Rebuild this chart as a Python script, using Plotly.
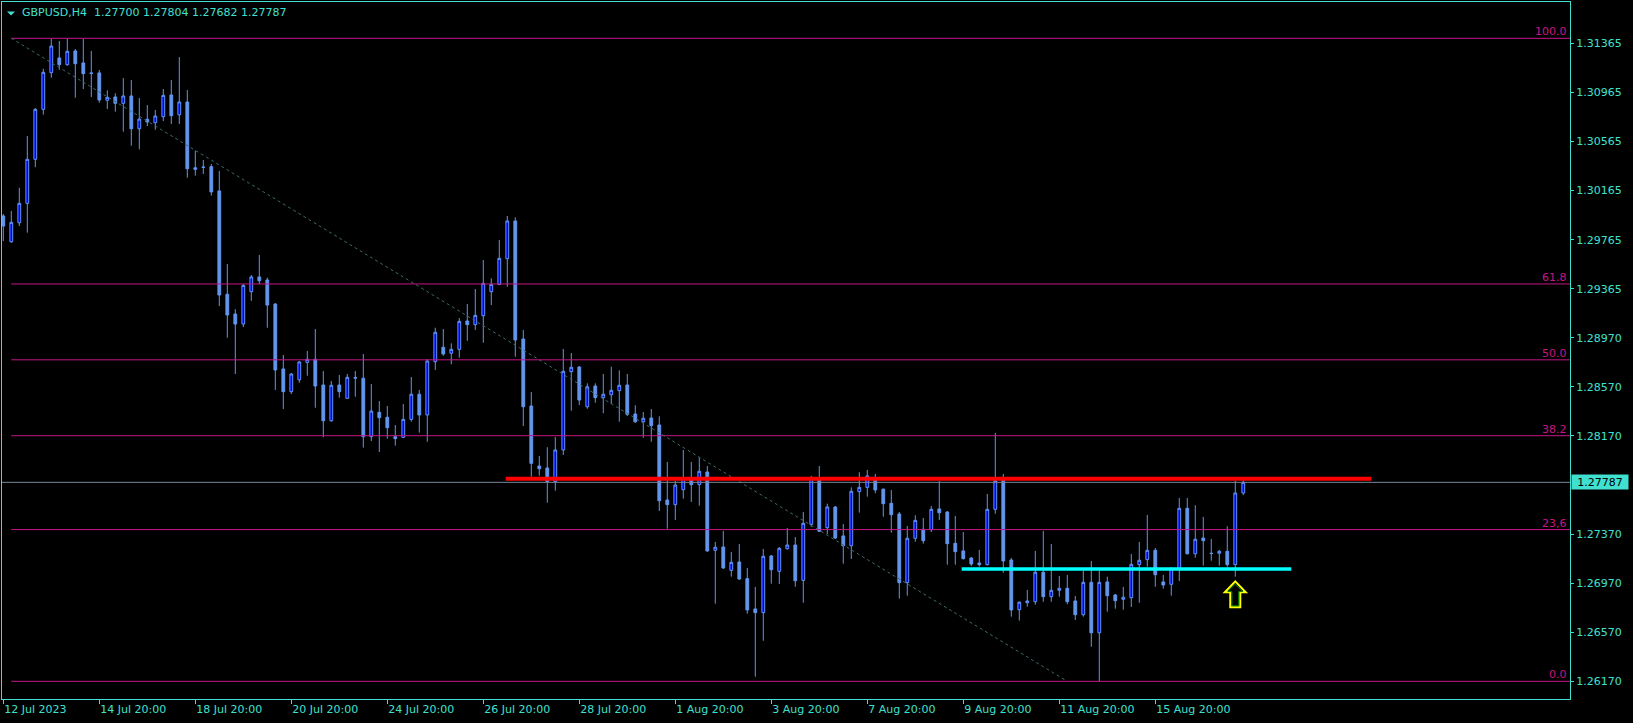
import plotly.graph_objects as go

# ---------------- data (GBPUSD, H4) ----------------
tick_bars = [0, 12, 24, 36, 48, 60, 72, 84, 96, 108, 120, 132, 144]
tick_labels = ["12 Jul 2023", "14 Jul 20:00", "18 Jul 20:00", "20 Jul 20:00", "24 Jul 20:00",
               "26 Jul 20:00", "28 Jul 20:00", "1 Aug 20:00", "3 Aug 20:00", "7 Aug 20:00",
               "9 Aug 20:00", "11 Aug 20:00", "15 Aug 20:00"]

opens = [
    1.29958, 1.29748, 1.29903, 1.30061, 1.30420, 1.30827, 1.31126, 1.31246, 1.31191, 1.31303, 1.31205, 1.31124,
    1.31124, 1.30901, 1.30928, 1.30876, 1.30936, 1.30669, 1.30746, 1.30718, 1.30767, 1.30944, 1.30783, 1.30887,
    1.30351, 1.30357, 1.30360, 1.30162, 1.29320, 1.29159, 1.29077, 1.29341, 1.29461, 1.29436, 1.29240, 1.28711,
    1.28526, 1.28623, 1.28765, 1.28790, 1.28580, 1.28289, 1.28580, 1.28472, 1.28641, 1.28635, 1.28159, 1.28358,
    1.28317, 1.28159, 1.28154, 1.28300, 1.28505, 1.28336, 1.28770, 1.28888, 1.28839, 1.28871, 1.29102, 1.29072,
    1.29145, 1.29341, 1.29400, 1.29610, 1.29917, 1.28955, 1.28409, 1.27920, 1.27904, 1.27792, 1.28051, 1.28689,
    1.28727, 1.28403, 1.28572, 1.28477, 1.28501, 1.28534, 1.28580, 1.28344, 1.28281, 1.28311, 1.28254, 1.27643,
    1.27605, 1.27727, 1.27817, 1.27768, 1.27871, 1.27233, 1.27260, 1.27070, 1.27138, 1.27002, 1.26755, 1.26725,
    1.27187, 1.27062, 1.27246, 1.27276, 1.26988, 1.27445, 1.27822, 1.27417, 1.27586, 1.27350, 1.27270, 1.27711,
    1.27746, 1.27806, 1.27731, 1.27616, 1.27529, 1.26969, 1.27331, 1.27404, 1.27401, 1.27570, 1.27545, 1.27290,
    1.27228, 1.27170, 1.27129, 1.27116, 1.27567, 1.27804, 1.27154, 1.26749, 1.26806, 1.26814, 1.27054, 1.26855,
    1.26907, 1.26923, 1.26820, 1.26708, 1.26972, 1.26561, 1.26975, 1.26869, 1.26834, 1.26847, 1.27116, 1.27157,
    1.27233, 1.26975, 1.26956, 1.27083, 1.27575, 1.27205, 1.27333, 1.27209, 1.27209, 1.27225, 1.27116, 1.27700,
]
highs = [
    1.29974, 1.29999, 1.30188, 1.30610, 1.30838, 1.31158, 1.31401, 1.31384, 1.31406, 1.31319, 1.31400, 1.31303,
    1.31148, 1.30982, 1.30958, 1.31082, 1.31066, 1.30919, 1.30862, 1.30822, 1.30993, 1.31066, 1.31253, 1.30985,
    1.30490, 1.30414, 1.30381, 1.30325, 1.29566, 1.29198, 1.29403, 1.29477, 1.29640, 1.29455, 1.29248, 1.28825,
    1.28678, 1.28776, 1.28857, 1.29037, 1.28694, 1.28613, 1.28662, 1.28670, 1.28694, 1.28833, 1.28588, 1.28450,
    1.28409, 1.28254, 1.28425, 1.28646, 1.28540, 1.28792, 1.29047, 1.29037, 1.28920, 1.29126, 1.29240, 1.29363,
    1.29599, 1.29449, 1.29762, 1.29958, 1.29947, 1.29029, 1.28523, 1.28002, 1.28073, 1.28156, 1.28874, 1.28841,
    1.28735, 1.28594, 1.28594, 1.28670, 1.28730, 1.28700, 1.28670, 1.28415, 1.28360, 1.28385, 1.28325, 1.27953,
    1.27800, 1.28051, 1.27953, 1.27988, 1.27920, 1.27301, 1.27391, 1.27220, 1.27284, 1.27089, 1.26934, 1.27244,
    1.27195, 1.27260, 1.27415, 1.27341, 1.27545, 1.27839, 1.27920, 1.27613, 1.27594, 1.27447, 1.27746, 1.27869,
    1.27888, 1.27855, 1.27737, 1.27725, 1.27545, 1.27431, 1.27518, 1.27496, 1.27594, 1.27798, 1.27553, 1.27513,
    1.27382, 1.27178, 1.27236, 1.27692, 1.28190, 1.27855, 1.27170, 1.26816, 1.26910, 1.27228, 1.27391, 1.27284,
    1.27024, 1.27032, 1.26861, 1.27067, 1.27146, 1.27067, 1.27018, 1.26877, 1.26934, 1.27203, 1.27301, 1.27521,
    1.27252, 1.27032, 1.27097, 1.27660, 1.27660, 1.27600, 1.27505, 1.27325, 1.27236, 1.27429, 1.27800, 1.27804,
]
lows = [
    1.29754, 1.29740, 1.29876, 1.29822, 1.30355, 1.30784, 1.31085, 1.31150, 1.31183, 1.30922, 1.30993, 1.30928,
    1.30881, 1.30830, 1.30808, 1.30645, 1.30531, 1.30501, 1.30691, 1.30661, 1.30732, 1.30707, 1.30707, 1.30270,
    1.30287, 1.30300, 1.30124, 1.29224, 1.28966, 1.28670, 1.29053, 1.29267, 1.29403, 1.29047, 1.28540, 1.28385,
    1.28507, 1.28599, 1.28656, 1.28395, 1.28154, 1.28281, 1.28477, 1.28466, 1.28485, 1.28070, 1.28124, 1.28034,
    1.28143, 1.28086, 1.28148, 1.28281, 1.28192, 1.28118, 1.28703, 1.28819, 1.28749, 1.28803, 1.28941, 1.29029,
    1.28925, 1.29232, 1.29395, 1.29381, 1.28811, 1.28246, 1.27833, 1.27841, 1.27621, 1.27719, 1.28010, 1.28371,
    1.28417, 1.28387, 1.28436, 1.28350, 1.28425, 1.28281, 1.28328, 1.28271, 1.28150, 1.28118, 1.27553, 1.27409,
    1.27480, 1.27654, 1.27627, 1.27597, 1.27220, 1.26798, 1.27081, 1.27018, 1.26991, 1.26716, 1.26203, 1.26496,
    1.26961, 1.26958, 1.27238, 1.26936, 1.26806, 1.27425, 1.27382, 1.27366, 1.27325, 1.27124, 1.27162, 1.27540,
    1.27670, 1.27698, 1.27507, 1.27377, 1.26839, 1.26863, 1.27303, 1.27287, 1.27382, 1.27480, 1.27116, 1.27116,
    1.27158, 1.27105, 1.27099, 1.27110, 1.27531, 1.27051, 1.26692, 1.26660, 1.26774, 1.26790, 1.26814, 1.26814,
    1.26855, 1.26793, 1.26665, 1.26692, 1.26447, 1.26165, 1.26733, 1.26757, 1.26749, 1.26771, 1.26806, 1.27099,
    1.26936, 1.26920, 1.26863, 1.26983, 1.27199, 1.27173, 1.27108, 1.27148, 1.27108, 1.27099, 1.27018, 1.27682,
]
closes = [
    1.29876, 1.29906, 1.30061, 1.30420, 1.30827, 1.31129, 1.31343, 1.31191, 1.31300, 1.31199, 1.31118, 1.31120,
    1.30903, 1.30925, 1.30876, 1.30936, 1.30669, 1.30748, 1.30724, 1.30773, 1.30941, 1.30775, 1.30887, 1.30343,
    1.30338, 1.30355, 1.30154, 1.29314, 1.29151, 1.29077, 1.29392, 1.29461, 1.29430, 1.29232, 1.28703, 1.28526,
    1.28670, 1.28768, 1.28790, 1.28572, 1.28289, 1.28578, 1.28526, 1.28643, 1.28637, 1.28159, 1.28368, 1.28314,
    1.28232, 1.28143, 1.28300, 1.28505, 1.28336, 1.28776, 1.29010, 1.28833, 1.28871, 1.29099, 1.29072, 1.29148,
    1.29409, 1.29400, 1.29613, 1.29917, 1.28947, 1.28403, 1.27942, 1.27898, 1.27792, 1.28051, 1.28692, 1.28725,
    1.28458, 1.28566, 1.28477, 1.28505, 1.28537, 1.28578, 1.28341, 1.28281, 1.28309, 1.28249, 1.27637, 1.27605,
    1.27765, 1.27820, 1.27768, 1.27877, 1.27228, 1.27258, 1.27089, 1.27135, 1.26999, 1.26747, 1.26725, 1.27184,
    1.27075, 1.27249, 1.27276, 1.26985, 1.27453, 1.27822, 1.27388, 1.27586, 1.27333, 1.27270, 1.27714, 1.27746,
    1.27839, 1.27725, 1.27613, 1.27523, 1.26969, 1.27331, 1.27477, 1.27311, 1.27567, 1.27539, 1.27287, 1.27222,
    1.27165, 1.27121, 1.27116, 1.27567, 1.27800, 1.27146, 1.26747, 1.26810, 1.26820, 1.27054, 1.26855, 1.26907,
    1.26923, 1.26814, 1.26708, 1.26972, 1.26561, 1.26972, 1.26863, 1.26822, 1.26850, 1.27119, 1.27152, 1.27233,
    1.27034, 1.26950, 1.27083, 1.27575, 1.27205, 1.27323, 1.27311, 1.27207, 1.27225, 1.27116, 1.27700, 1.27787,
]
bars = list(range(len(closes)))

price_ticks = [1.31365, 1.30965, 1.30565, 1.30165, 1.29765, 1.29365, 1.28965, 1.28565,
               1.28165, 1.27365, 1.26965, 1.26565, 1.26165]
price_tick_labels = ["1.31365", "1.30965", "1.30565", "1.30165", "1.29765", "1.29365", "1.28970",
                     "1.28570", "1.28170", "1.27370", "1.26970", "1.26570", "1.26170"]

# Fibonacci retracement
fib_high, fib_low = 1.31406, 1.26165
fib_bar_start, fib_bar_end = 1, 133
fib_levels = [0.0, 23.6, 38.2, 50.0, 61.8, 100.0]
fib_labels = ["0.0", "23,6", "38.2", "50.0", "61.8", "100.0"]

# drawn levels
resistance_price = 1.27817
resistance_bars = [62.8, 171.0]
support_price = 1.27081
support_bars = [119.8, 161.0]
arrow_bar, arrow_price = 154, 1.26980

symbol = "GBPUSD,H4"
last_price = closes[-1]
header = (f"{symbol}&nbsp;&nbsp;{opens[-1]:.5f} {highs[-1]:.5f} "
          f"{lows[-1]:.5f} {closes[-1]:.5f}")

# ---------------- style ----------------
W, H = 1633, 723
ML, MR, MT, MB = 2, 63, 2, 24
TXT = "#40E0D0"
FIB = "#C71585"
UP_FILL, BODY = "#0000FF", "#6495ED"
FONT = "DejaVu Sans"

y_top, y_bot = 1.31702, 1.26021
x_left, x_right = -0.1625, 195.84

fig = go.Figure()
fig.add_trace(go.Candlestick(
    x=bars, open=opens, high=highs, low=lows, close=closes,
    increasing=dict(fillcolor=UP_FILL, line=dict(color=BODY, width=1)),
    decreasing=dict(fillcolor=BODY, line=dict(color=BODY, width=1)),
    whiskerwidth=0, hoverinfo="skip", showlegend=False,
))

shapes = []
annotations = []

# Fibonacci lines and labels
for lvl, lab in zip(fib_levels, fib_labels):
    p = fib_low + lvl / 100.0 * (fib_high - fib_low)
    shapes.append(dict(type="line", xref="x", yref="y", x0=fib_bar_start, x1=x_right,
                       y0=p, y1=p, line=dict(color=FIB, width=1), layer="above"))
    annotations.append(dict(xref="paper", yref="y", x=1, y=p, xanchor="right", yanchor="bottom",
                            text=lab, showarrow=False, xshift=-1, yshift=-2,
                            font=dict(family=FONT, size=11, color=FIB)))
# fib trend line
shapes.append(dict(type="line", xref="x", yref="y", x0=fib_bar_start, y0=fib_high,
                   x1=fib_bar_end, y1=fib_low, line=dict(color="#3E6A6A", width=1, dash="dot"),
                   layer="above"))
# last price line
shapes.append(dict(type="line", xref="paper", yref="y", x0=0, x1=1, y0=last_price, y1=last_price,
                   line=dict(color="#778899", width=1), layer="above"))
# resistance / support
shapes.append(dict(type="line", xref="x", yref="y", x0=resistance_bars[0], x1=resistance_bars[1],
                   y0=resistance_price, y1=resistance_price, line=dict(color="#FF0000", width=4),
                   layer="above"))
shapes.append(dict(type="line", xref="x", yref="y", x0=support_bars[0], x1=support_bars[1],
                   y0=support_price, y1=support_price, line=dict(color="#00FFFF", width=3.5),
                   layer="above"))
# arrow (pixel-sized, anchored at the bar)
outer = "M 0 0 L 10.5 -11 L 5 -11 L 5 -26 L -5 -26 L -5 -11 L -10.5 -11 Z"
inner = "M 0 -2.8 L 7.3 -10.2 L 3.4 -10.2 L 3.4 -24.4 L -3.4 -24.4 L -3.4 -10.2 L -7.3 -10.2 Z"
shapes.append(dict(type="path", xref="x", yref="y", xsizemode="pixel", ysizemode="pixel",
                   xanchor=arrow_bar, yanchor=arrow_price, path=outer,
                   line=dict(color="#FFFF00", width=2), layer="above"))
shapes.append(dict(type="path", xref="x", yref="y", xsizemode="pixel", ysizemode="pixel",
                   xanchor=arrow_bar, yanchor=arrow_price, path=inner,
                   line=dict(color="#008000", width=1), layer="above"))

# price label box
annotations.append(dict(xref="paper", yref="y", x=1, y=last_price, xanchor="left", yanchor="middle",
                        text=f"{last_price:.5f}", showarrow=False, xshift=1, width=54, height=12,
                        align="center", bgcolor=TXT, borderpad=1,
                        font=dict(family=FONT, size=11, color="#000000")))
# header
pw, ph = W - ML - MR, H - MT - MB
annotations.append(dict(xref="paper", yref="paper", x=(20 - ML) / pw, y=1 - (12.5 - MT) / ph,
                        xanchor="left", yanchor="middle", text=header, showarrow=False,
                        font=dict(family=FONT, size=11, color=TXT)))
shapes.append(dict(type="path", xref="paper", yref="paper", xsizemode="pixel", ysizemode="pixel",
                   xanchor=(11 - ML) / pw, yanchor=1 - (13 - MT) / ph,
                   path="M -4 1.5 L 4 1.5 L 0 -2.5 Z", fillcolor=TXT, line=dict(width=0),
                   layer="above"))

fig.update_layout(
    width=W, height=H,
    margin=dict(l=ML, r=MR, t=MT, b=MB, pad=0, autoexpand=False),
    paper_bgcolor="#000000", plot_bgcolor="#000000",
    font=dict(family=FONT, size=11, color=TXT),
    showlegend=False, boxgap=0.5,
    shapes=shapes, annotations=annotations,
    xaxis=dict(range=[x_left, x_right], rangeslider=dict(visible=False), showgrid=False,
               zeroline=False, showline=True, mirror=True, linecolor=TXT, linewidth=1,
               automargin=False,
               tickmode="array", tickvals=tick_bars, ticktext=tick_labels,
               ticks="outside", ticklen=4, tickcolor=TXT, tickwidth=1,
               ticklabelposition="outside right",
               tickfont=dict(family=FONT, size=11, color=TXT)),
    yaxis=dict(range=[y_bot, y_top], side="right", showgrid=False, zeroline=False,
               showline=True, mirror=True, linecolor=TXT, linewidth=1,
               automargin=False,
               tickmode="array", tickvals=price_ticks, ticktext=price_tick_labels,
               ticks="outside", ticklen=3, tickcolor=TXT, tickwidth=1,
               tickfont=dict(family=FONT, size=11, color=TXT)),
)

fig.write_html("out.html",
               config={"displayModeBar": False, "staticPlot": True},
               post_script="document.body.style.margin='0';"
                           "document.body.style.overflow='hidden';"
                           "document.body.style.background='#000';")
